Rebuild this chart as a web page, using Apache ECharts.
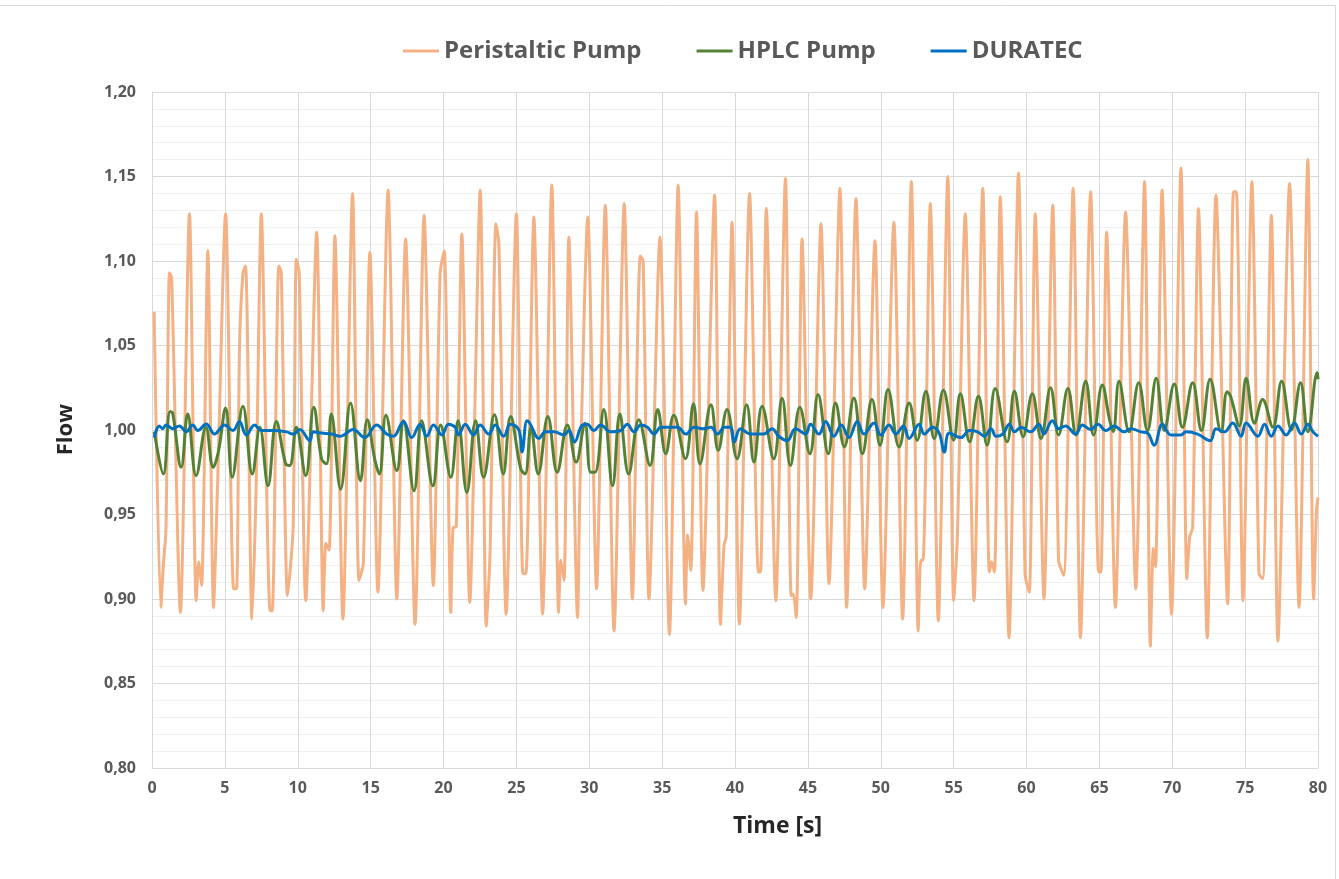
<!DOCTYPE html>
<html>
<head>
<meta charset="utf-8">
<script src="https://cdn.jsdelivr.net/npm/echarts@6/dist/echarts.min.js"></script>
<style>
html,body{margin:0;padding:0;background:#fff;}
#chart{width:1339px;height:879px;}
</style>
</head>
<body>
<div id="chart"></div>
<script>
// ---- Data ----
const seriesNames = ['Peristaltic Pump', 'HPLC Pump', 'DURATEC'];

const periT = [0.15,0.6,0.78,0.96,1.2,1.35,1.95,2.57,3.03,3.2,3.4,3.83,4.22,4.5,5.05,5.6,5.8,6.0,6.24,6.42,6.86,7.15,7.5,8.1,8.25,8.7,8.87,9.3,9.68,9.9,10.1,10.55,11.3,11.75,11.93,12.15,12.55,13.1,13.76,14.2,14.5,14.95,15.5,16.2,16.8,17.4,18.05,18.67,19.3,19.77,20.05,20.5,20.65,20.88,21.26,21.8,22.52,22.93,23.2,23.6,23.8,24.3,25.0,25.45,25.65,26.2,26.8,27.43,27.9,28.05,28.27,28.6,29.2,29.35,29.9,30.5,31.1,31.7,32.4,32.96,33.5,33.7,34.1,34.85,35.5,36.1,36.6,36.75,36.97,37.36,37.8,38.6,39.0,39.25,39.4,39.8,40.3,41.0,41.6,41.75,42.15,42.8,43.46,43.85,44.0,44.2,44.6,45.2,45.9,46.45,47.2,47.66,48.3,48.9,49.6,50.15,50.9,51.5,52.1,52.57,52.75,52.9,53.4,53.95,54.6,55.0,55.25,55.8,56.4,57.0,57.45,57.6,57.8,58.2,58.8,59.45,59.9,60.05,60.2,60.6,61.2,61.8,62.2,62.55,63.2,63.7,64.4,64.95,65.1,65.5,66.1,66.8,67.5,68.1,68.5,68.7,68.85,69.3,69.95,70.6,71.0,71.2,71.4,71.8,72.4,73.0,73.8,74.2,74.4,74.85,75.46,75.95,76.2,76.8,77.25,78.05,78.7,79.3,79.7,79.9,80.0];
const periV = [1.070,0.895,0.920,0.942,1.093,1.090,0.892,1.128,0.899,0.922,0.908,1.106,0.895,0.968,1.128,0.906,0.906,1.048,1.093,1.097,0.888,0.968,1.128,0.893,0.893,1.097,1.093,0.902,0.942,1.101,1.093,0.899,1.117,0.893,0.933,0.929,1.115,0.888,1.140,0.911,0.921,1.105,0.904,1.142,0.900,1.113,0.885,1.127,0.908,1.093,1.106,0.892,0.942,0.943,1.116,0.898,1.142,0.884,0.929,1.122,1.110,0.891,1.128,0.915,0.915,1.126,0.891,1.145,0.892,0.923,0.911,1.114,0.889,0.961,1.126,0.906,1.133,0.881,1.134,0.900,1.103,1.100,0.900,1.114,0.879,1.145,0.897,0.938,0.917,1.129,0.905,1.139,0.885,0.932,0.937,1.123,0.885,1.140,0.916,0.916,1.131,0.899,1.149,0.902,0.903,0.889,1.113,0.900,1.122,0.909,1.143,0.895,1.137,0.906,1.112,0.895,1.123,0.888,1.147,0.881,0.923,0.923,1.134,0.887,1.150,0.899,0.935,1.128,0.899,1.143,0.916,0.922,0.916,1.138,0.877,1.152,0.915,0.908,0.904,1.128,0.900,1.133,0.923,0.914,1.143,0.877,1.141,0.916,0.916,1.117,0.895,1.129,0.906,1.147,0.872,0.930,0.919,1.142,0.891,1.155,0.912,0.937,0.942,1.131,0.877,1.139,0.897,1.141,1.141,0.899,1.147,0.915,0.912,1.127,0.875,1.146,0.895,1.160,0.900,0.953,0.960];

const hplcT = [0.16,0.78,1.24,1.42,2.0,2.45,3.03,3.7,4.2,4.55,5.05,5.5,6.24,6.88,7.4,7.96,8.53,9.17,9.45,9.9,10.55,11.1,11.63,11.97,12.3,12.94,13.62,14.3,14.77,15.3,15.6,16.05,16.8,17.25,17.98,18.5,19.27,19.8,20.5,21.0,21.6,22.2,22.75,23.5,24.1,24.6,25.3,25.6,26.0,26.5,27.16,27.8,28.5,29.1,29.7,30.1,30.4,31.0,31.6,32.1,32.7,33.4,34.17,34.7,35.25,35.8,36.6,37.15,37.6,38.35,38.85,39.45,40.14,40.8,41.3,41.86,42.66,43.23,43.8,44.45,45.14,45.7,46.4,46.9,47.5,48.16,48.74,49.4,49.95,50.5,51.26,51.95,52.5,53.1,53.67,54.3,55.0,55.46,56.1,56.7,57.3,57.85,58.67,59.17,59.77,60.4,61.0,61.65,62.2,62.84,63.4,64.06,64.6,65.2,65.7,65.95,66.35,67.04,67.7,68.3,68.9,69.45,70.14,70.7,71.4,72.0,72.6,73.35,73.76,74.0,74.6,75.07,75.64,76.2,76.9,77.5,78.17,78.8,79.3,79.95,80.0];
const hplcV = [0.999,0.974,1.011,1.010,0.978,1.0095,0.973,1.0016,0.978,0.987,1.013,0.972,1.014,0.974,1.0016,0.967,1.005,0.980,0.979,1.0016,0.973,1.0135,0.983,0.980,1.0095,0.965,1.016,0.970,1.006,0.982,0.974,1.0087,0.976,1.0055,0.964,1.0055,0.967,1.003,0.972,1.0055,0.963,1.0055,0.972,1.009,0.974,1.008,0.977,0.974,1.0016,0.974,1.008,0.975,1.003,0.981,1.004,0.975,0.975,1.0122,0.967,1.0095,0.974,1.006,0.979,1.0122,0.986,1.0087,0.983,1.0156,0.980,1.015,0.988,1.0122,0.983,1.015,0.981,1.014,0.983,1.0188,0.979,1.0135,0.986,1.021,0.986,1.016,0.990,1.019,0.986,1.018,0.991,1.024,0.990,1.016,0.994,1.023,0.995,1.0235,0.994,1.0214,0.993,1.020,0.991,1.0245,0.993,1.023,0.996,1.0214,0.995,1.025,0.997,1.0245,0.997,1.0288,0.997,1.0267,1.006,0.999,1.0288,0.999,1.028,0.9997,1.0306,0.9997,1.0272,1.0016,1.028,0.9997,1.030,0.999,1.0226,1.020,1.0024,1.0306,1.004,1.018,1.0016,1.0288,1.000,1.028,0.999,1.034,1.030];

const duraT = [0.16,0.5,0.73,0.96,1.42,1.88,2.34,2.8,3.14,3.72,4.29,4.98,5.55,6.0,6.47,7.04,7.5,8.3,9.22,9.72,10.14,10.83,11.06,11.63,12.32,12.9,13.8,14.6,15.41,16.1,16.56,17.25,17.82,18.4,18.85,19.31,19.89,20.34,20.8,21.03,21.49,22.06,22.52,23.1,23.55,24.13,24.59,25.16,25.39,25.73,25.96,26.54,27.0,27.57,28.26,28.6,28.99,29.52,29.86,30.32,30.78,31.47,32.16,32.61,33.07,33.53,33.99,34.45,34.91,35.37,36.06,36.63,37.2,37.78,38.35,38.81,39.27,39.68,39.95,40.37,41.06,41.97,42.55,43.0,43.58,44.15,44.84,45.18,45.76,46.22,46.79,47.29,47.82,48.39,48.85,49.54,50.0,50.57,51.03,51.56,51.95,52.64,52.98,53.56,54.01,54.36,54.7,55.5,56.08,56.65,57.11,57.57,57.91,58.37,58.83,59.17,59.63,60.28,60.85,61.19,61.77,62.22,62.68,63.37,63.83,64.4,64.91,65.44,66.01,66.7,67.16,67.84,68.3,68.76,69.33,69.91,70.6,70.94,71.74,72.61,73.0,73.58,74.15,74.72,75.07,75.87,76.33,76.79,77.25,77.82,78.39,78.85,79.31,79.66,80.0];
const duraV = [0.9955,1.0024,1.0008,1.003,1.0008,1.0024,0.999,1.003,0.9997,1.0035,0.9976,1.003,0.9997,1.005,0.997,1.003,0.9997,0.9997,0.9989,0.9976,1.0003,0.9937,0.9989,0.9982,0.9976,0.9963,1.0003,0.9955,1.003,0.9976,0.9963,1.005,0.9955,1.0034,0.9963,1.0029,0.9971,1.0034,1.0016,0.9971,1.0034,0.9971,1.0029,0.9976,1.0029,0.9963,1.0034,1.0003,0.987,1.0055,1.0034,0.995,0.9989,0.9989,0.9971,0.9997,0.9929,1.0029,1.0034,0.9997,1.0029,0.9989,0.9997,1.0034,0.9989,1.0029,1.0016,0.9976,1.0016,1.0016,1.0016,0.9976,1.0016,1.0008,1.0016,0.9976,1.0016,1.0016,0.9929,1.0008,0.9976,0.9976,1.0008,0.9963,0.9937,1.0008,0.9976,1.0034,0.9976,1.005,0.9963,1.0029,0.9955,1.005,0.9976,1.0042,0.9971,1.0029,0.9976,1.0024,0.995,1.0034,0.9976,1.0016,0.9982,0.987,0.9982,0.9955,0.9997,0.9989,0.9963,1.0008,0.9963,0.9976,1.0034,0.9989,1.0016,0.9989,1.0034,0.9976,1.0055,1.0008,1.0024,0.9976,1.0029,1.0003,1.0034,0.9997,1.0024,0.9989,1.0008,0.9989,0.9982,0.991,1.0034,0.9971,0.9971,0.9989,0.9976,0.9937,1.0008,0.9989,1.0042,0.9963,1.0042,0.9963,1.0034,0.9963,1.0024,0.9971,1.0042,0.9976,1.0034,0.9989,0.9963];

const colors = ['#F4B183', '#548235', '#0070C0'];

// ---- Chart ----
const chart = echarts.init(document.getElementById('chart'), null, {renderer: 'canvas'});
const pair = (T, V) => T.map((t, i) => [t, V[i]]);
const FONT = 'Open Sans';

chart.setOption({
  animation: false,
  backgroundColor: '#ffffff',
  textStyle: {fontFamily: FONT},
  legend: {
    left: 398,
    top: 34,
    icon: 'rect',
    itemWidth: 36,
    itemHeight: 3,
    itemGap: 55,
    data: seriesNames,
    textStyle: {fontFamily: FONT, fontSize: 24, fontWeight: 'bold', color: '#595959'}
  },
  grid: {left: 152, right: 21, top: 92, bottom: 111, containLabel: false},
  xAxis: {
    type: 'value',
    min: 0, max: 80, interval: 5,
    axisLine: {show: true, lineStyle: {color: '#d9d9d9', width: 1}},
    axisTick: {show: false},
    axisLabel: {fontFamily: FONT, fontSize: 16, fontWeight: 'bold', color: '#595959', margin: 12},
    splitLine: {show: true, lineStyle: {color: '#d9d9d9', width: 1}}
  },
  yAxis: {
    type: 'value',
    min: 0.8, max: 1.2, interval: 0.05,
    axisLine: {show: true, lineStyle: {color: '#d9d9d9', width: 1}},
    axisTick: {show: false},
    minorTick: {show: false, splitNumber: 5},
    minorSplitLine: {show: true, lineStyle: {color: '#f0f0f0', width: 1}},
    axisLabel: {fontFamily: FONT, fontSize: 16, fontWeight: 'bold', color: '#595959', margin: 16,
      formatter: v => v.toFixed(2).replace('.', ',')},
    splitLine: {show: true, lineStyle: {color: '#d9d9d9', width: 1}}
  },
  graphic: [
    {type: 'line', shape: {x1: 0, y1: 5.5, x2: 1335.5, y2: 5.5},
     style: {stroke: '#d9d9d9', lineWidth: 1}, silent: true, z: -1},
    {type: 'line', shape: {x1: 1335.5, y1: 5.5, x2: 1335.5, y2: 879},
     style: {stroke: '#d9d9d9', lineWidth: 1}, silent: true, z: -1},
    {type: 'text', left: 733, top: 815,
     style: {text: 'Time [s]', fontFamily: FONT, fontSize: 23, fontWeight: 'bold', fill: '#262626'}},
    {type: 'text', left: 55, top: 404, rotation: Math.PI / 2,
     style: {text: 'Flow', fontFamily: FONT, fontSize: 22, fontWeight: 'bold', fill: '#262626'}}
  ],
  series: [
    {name: seriesNames[0], type: 'line', data: pair(periT, periV), showSymbol: false, smooth: 0.25,
     lineStyle: {color: colors[0], width: 3}, itemStyle: {color: colors[0]}, z: 2},
    {name: seriesNames[1], type: 'line', data: pair(hplcT, hplcV), showSymbol: false, smooth: 0.4,
     lineStyle: {color: colors[1], width: 3}, itemStyle: {color: colors[1]}, z: 3},
    {name: seriesNames[2], type: 'line', data: pair(duraT, duraV), showSymbol: false, smooth: 0.4,
     lineStyle: {color: colors[2], width: 3}, itemStyle: {color: colors[2]}, z: 4}
  ]
});
</script>
</body>
</html>
